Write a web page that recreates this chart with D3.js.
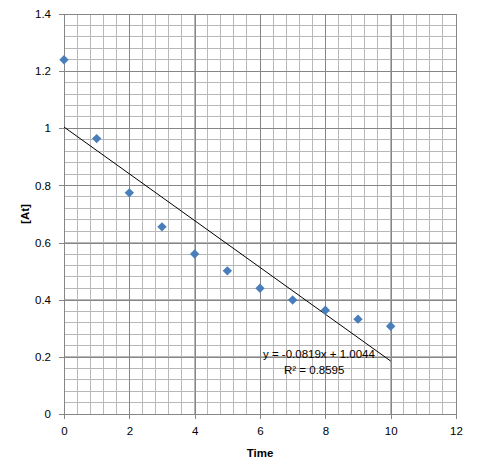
<!DOCTYPE html>
<html>
<head>
<meta charset="utf-8">
<script src="https://cdn.jsdelivr.net/npm/d3@7"></script>
<style>
  body { margin: 0; background: #fff; }
  svg text { font-family: "Liberation Sans", Arial, sans-serif; }
</style>
</head>
<body>
<svg id="chart" width="477" height="470"></svg>
<script>
// data
const times = [0, 1, 2, 3, 4, 5, 6, 7, 8, 9, 10]
const conc = [1.24, 0.964, 0.774, 0.655, 0.56, 0.501, 0.44, 0.399, 0.363, 0.332, 0.307]
const xTicks = [0, 2, 4, 6, 8, 10, 12]
const yTicks = [0, 0.2, 0.4, 0.6, 0.8, 1, 1.2, 1.4]
const slope = -0.0819, intercept = 1.0044
const eqText = "y = -0.0819x + 1.0044"
const r2Text = "R² = 0.8595"

const svg = d3.select("#chart")
const margin = {top: 14, right: 21, bottom: 56, left: 64}
const width = 477, height = 470

const x = d3.scaleLinear().domain([0, 12]).range([margin.left, width - margin.right])
const y = d3.scaleLinear().domain([0, 1.4]).range([height - margin.bottom, margin.top])

// minor grid
const grid = svg.append("g")
grid.selectAll(".vmin").data(d3.range(0, 12.001, 0.4)).enter().append("line")
  .attr("x1", d => x(d)).attr("x2", d => x(d))
  .attr("y1", y(0)).attr("y2", y(1.4))
  .attr("stroke", "#b8b8b8").attr("stroke-width", 1).attr("shape-rendering", "crispEdges")
grid.selectAll(".hmin").data(d3.range(0, 1.4001, 0.04)).enter().append("line")
  .attr("x1", x(0)).attr("x2", x(12))
  .attr("y1", d => y(d)).attr("y2", d => y(d))
  .attr("stroke", "#b8b8b8").attr("stroke-width", 1).attr("shape-rendering", "crispEdges")

// major grid via axes
svg.append("g")
  .attr("transform", `translate(0,${y(0)})`)
  .call(d3.axisBottom(x).tickValues(xTicks).tickSize(-(y(0) - y(1.4))).tickFormat(""))
  .call(g => g.select(".domain").remove())
  .call(g => g.selectAll("line").attr("stroke", "#868686").attr("shape-rendering", "crispEdges"))
svg.append("g")
  .attr("transform", `translate(${x(0)},0)`)
  .call(d3.axisLeft(y).tickValues(yTicks).tickSize(-(x(12) - x(0))).tickFormat(""))
  .call(g => g.select(".domain").remove())
  .call(g => g.selectAll("line").attr("stroke", "#868686").attr("shape-rendering", "crispEdges"))

// axes with ticks and labels
const xAxis = svg.append("g")
  .attr("transform", `translate(0,${y(0)})`)
  .call(d3.axisBottom(x).tickValues(xTicks).tickSize(5).tickPadding(8).tickFormat(d3.format("")))
const yAxis = svg.append("g")
  .attr("transform", `translate(${x(0)},0)`)
  .call(d3.axisLeft(y).tickValues(yTicks).tickSize(5).tickPadding(8).tickFormat(d3.format("")))
;[xAxis, yAxis].forEach(a => {
  a.select(".domain").attr("stroke", "#868686").attr("shape-rendering", "crispEdges")
  a.selectAll("line").attr("stroke", "#868686").attr("shape-rendering", "crispEdges")
  a.selectAll("text").attr("fill", "#000").style("font-size", "11.5px")
})
yAxis.select(".domain").attr("d", `M-5,${y(1.4)}H0V${y(0)}H-5`)
xAxis.select(".domain").attr("d", `M${x(0)},5V0H${x(12)}V5`)

// trendline
svg.append("line")
  .attr("x1", x(0)).attr("y1", y(intercept))
  .attr("x2", x(10)).attr("y2", y(intercept + slope * 10))
  .attr("stroke", "#000").attr("stroke-width", 1)

// points
svg.selectAll(".pt").data(times).enter().append("path")
  .attr("d", d3.symbol().type(d3.symbolDiamond2).size(56))
  .attr("transform", (d, i) => `translate(${x(d)},${y(conc[i])})`)
  .attr("fill", "#4a7ebb")

// equation label
svg.append("text").attr("x", 263).attr("y", 358)
  .style("font-size", "11.5px").attr("fill", "#000").text(eqText)
svg.append("text").attr("x", 284).attr("y", 374)
  .style("font-size", "11.5px").attr("fill", "#000").text(r2Text)

// axis titles
svg.append("text").attr("x", 260).attr("y", 457)
  .attr("text-anchor", "middle").style("font-size", "11.5px").style("font-weight", "bold")
  .text("Time")
svg.append("text").attr("transform", "translate(29,214) rotate(-90)")
  .attr("text-anchor", "middle").style("font-size", "11.5px").style("font-weight", "bold")
  .text("[At]")
</script>
</body>
</html>
